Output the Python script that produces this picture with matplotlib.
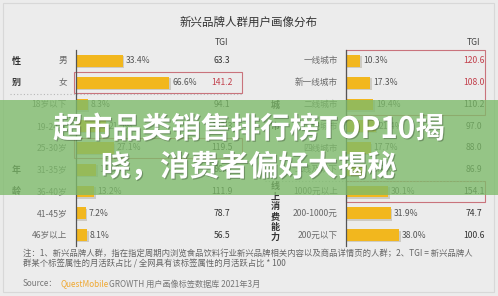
import matplotlib
matplotlib.use("Agg")
import matplotlib.pyplot as plt
import matplotlib.patheffects as pe
from matplotlib.patches import Rectangle


plt.rcParams["font.family"] = ["Noto Sans CJK SC", "DejaVu Sans"]


# =====================================================
# DATA
# =====================================================

left_labels = ["男", "女", "18岁以下", "19-24岁", "25-30岁",
               "31-35岁", "36-40岁", "41-45岁", "46岁以上"]
left_share = [33.4, 66.6, 8.3, 21.5, 27.1, 14.6, 13.2, 7.2, 8.1]
left_tgi = [63.3, 141.2, 94.1, 102.3, 119.5, 86.8, 111.9, 78.7, 56.5]
left_red = [False, True, False, False, False, False, False, False, False]
left_boxes = [1, 4]

right_labels = ["一线城市", "新一线城市", "二线城市", "三线城市", "四线城市",
                "五线及以下", "1000元以上", "200-1000元", "200元以下"]
right_share = [10.3, 17.3, 19.4, 21.4, 17.7, 13.9, 30.1, 31.9, 38.0]
right_tgi = [120.6, 108.0, 110.2, 97.0, 88.0, 86.9, 154.1, 74.7, 100.6]
right_red = [True, True, False, False, False, False, False, False, False]
right_boxes = [(0, 2), (6, 6)]

title = "新兴品牌人群用户画像分布"
banner_lines = ["超市品类销售排行榜TOP10揭", "晓，消费者偏好大揭秘"]
note_lines = [
    "注：1、新兴品牌人群，指在指定周期内浏览食品饮料行业新兴品牌相关内容以及商品详情页的人群；2、TGI = 新兴品牌人",
    "群某个标签属性的月活跃占比 / 全网具有该标签属性的月活跃占比 * 100",
]


# =====================================================
# FIGURE
# =====================================================

W, H = 498, 296
BAR = "#f2b71e"
RED = "#c2404c"
BOX = "#c9737c"

fig = plt.figure(figsize=(W / 100, H / 100), dpi=100, facecolor="#ececec")


def bar_panel(x0, x1, share, labels, tgi, red, tgi_x, lab_x):
    ax = fig.add_axes([x0 / W, 1 - 246 / H, (x1 - x0) / W, 196 / H])
    ax.set_facecolor("none")
    ax.set_xlim(0, (x1 - x0) / 1.4)
    ax.set_ylim(8.5, -0.5)
    for s in ["top", "right", "bottom"]:
        ax.spines[s].set_visible(False)
    ax.spines["left"].set_color("#555555")
    ax.spines["left"].set_linewidth(0.9)
    ax.set_xticks([])
    ax.set_yticks([])

    ypos = list(range(len(share)))
    ax.barh(
        ypos, share, height=0.54, color=BAR,
        path_effects=[pe.SimplePatchShadow(offset=(1, -1), alpha=0.18), pe.Normal()]
    )

    tr = ax.get_yaxis_transform()
    for i, v in enumerate(share):
        ax.annotate(f"{v:.1f}%", (v, i), xytext=(2, 0), textcoords="offset points",
                    va="center", fontsize=6.2, color="#555555")
        ax.text(tgi_x, i, f"{tgi[i]:.1f}", transform=tr, ha="center", va="center",
                fontsize=6.2, color=RED if red[i] else "#333333")
        ax.text(lab_x, i, labels[i], transform=tr, ha="right", va="center",
                fontsize=6.2, color="#6a6a6a")

    ax.text(tgi_x, -0.83, "TGI", transform=tr, ha="center", va="center",
            fontsize=6.2, color="#444444", clip_on=False)
    return ax


# =====================================================
# LEFT PANEL: GENDER + AGE
# =====================================================

axl = bar_panel(76, 245, left_share, left_labels, left_tgi, left_red, 0.864, -0.053)
trl = axl.get_yaxis_transform()
for i in left_boxes:
    axl.add_patch(Rectangle((-0.012, i - 0.48), 0.994, 0.96, transform=trl,
                            fill=False, ec=BOX, lw=0.8, clip_on=False))
axl.plot([-0.39, 0.98], [1.5, 1.5], transform=trl, color="#b8b8b8",
         lw=0.8, ls=(0, (1, 2)), clip_on=False)


# =====================================================
# RIGHT PANEL: CITY + SPENDING
# =====================================================

axr = bar_panel(346, 490, right_share, right_labels, right_tgi, right_red, 0.889, -0.056)
trr = axr.get_yaxis_transform()
for a, b in right_boxes:
    axr.add_patch(Rectangle((0, a - 0.48), 0.965, b - a + 0.96, transform=trr,
                            fill=False, ec=BOX, lw=0.8, clip_on=False))
axr.plot([-0.56, 0.965], [5.5, 5.5], transform=trr, color="#b8b8b8",
         lw=0.8, ls=(0, (1, 2)), clip_on=False)


# =====================================================
# OVERLAY: TITLE, GROUP LABELS, NOTES, BANNER
# =====================================================

ov = fig.add_axes([0, 0, 1, 1])
ov.set_xlim(0, W)
ov.set_ylim(H, 0)
ov.axis("off")
ov.set_zorder(10)

ov.add_patch(Rectangle((3, 3), W - 7, H - 7, fill=False, ec="#d8d8d8", lw=0.8))

ov.text(249, 22, title, ha="center", va="center", fontsize=8.3, color="#333333")

group_text = [("性", 16, 61), ("别", 16, 82), ("年", 16, 170), ("龄", 16, 191),
              ("城", 275, 105), ("市", 275, 127)]
for k, ch in enumerate("线上消费能力"):
    group_text.append((ch, 275, 187 + 10 * k))
for ch, x, y in group_text:
    ov.text(x, y, ch, ha="center", va="center", fontsize=6.5,
            fontweight="bold", color="#333333")

ov.text(23, 253, note_lines[0], va="center", fontsize=6.0, color="#666666")
ov.text(23, 264, note_lines[1], va="center", fontsize=6.0, color="#666666")

src = ov.text(23, 284, "Source：", va="center", fontsize=5.9, color="#777777")
qm = ov.annotate("QuestMobile", xy=(1, 0.5), xycoords=src, xytext=(2, 0),
                 textcoords="offset points", va="center", fontsize=5.9, color="#f0a830")
ov.annotate("GROWTH 用户画像标签数据库 2021年3月", xy=(1, 0.5), xycoords=qm,
            va="center", fontsize=5.9, color="#777777")

ov.add_patch(Rectangle((0, 100), W, 95, color="#7dbb6a", alpha=0.78, lw=0, zorder=5))
shadow = [pe.SimplePatchShadow(offset=(0.8, -0.8), shadow_rgbFace="black", alpha=0.25),
          pe.Normal()]
ov.text(249, 129, banner_lines[0], ha="center", va="center", fontsize=21.3,
        fontweight="bold", color="white", zorder=6, path_effects=shadow)
ov.text(249, 167, banner_lines[1], ha="center", va="center", fontsize=21.3,
        fontweight="bold", color="white", zorder=6, path_effects=shadow)

fig.savefig("out.png", dpi=100, facecolor=fig.get_facecolor())
